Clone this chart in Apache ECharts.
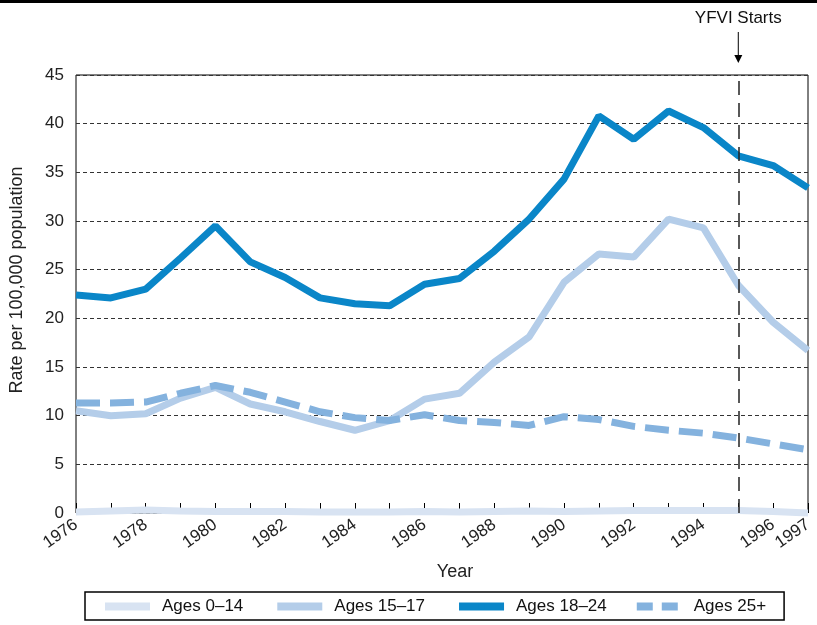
<!DOCTYPE html>
<html>
<head>
<meta charset="utf-8">
<script src="https://cdn.jsdelivr.net/npm/echarts@6/dist/echarts.min.js"></script>
<style>
  html, body { margin: 0; padding: 0; background: #fff; }
  #chart { width: 817px; height: 625px; }
</style>
</head>
<body>
<div id="chart"></div>
<script>
  // data
  const years = ['1976', '1977', '1978', '1979', '1980', '1981', '1982', '1983', '1984', '1985', '1986',
    '1987', '1988', '1989', '1990', '1991', '1992', '1993', '1994', '1995', '1996', '1997'];
  const ages0to14 = [0.1, 0.2, 0.3, 0.2, 0.15, 0.15, 0.15, 0.1, 0.1, 0.1, 0.15,
    0.1, 0.15, 0.2, 0.15, 0.2, 0.25, 0.25, 0.25, 0.25, 0.15, 0.0];
  const ages15to17 = [10.5, 10.0, 10.2, 11.8, 12.9, 11.2, 10.4, 9.4, 8.5, 9.5, 11.7,
    12.3, 15.5, 18.1, 23.7, 26.6, 26.3, 30.2, 29.3, 23.4, 19.6, 16.7];
  const ages18to24 = [22.4, 22.1, 23.0, 26.2, 29.5, 25.8, 24.2, 22.1, 21.5, 21.3, 23.5,
    24.1, 26.9, 30.2, 34.3, 40.8, 38.4, 41.3, 39.6, 36.7, 35.7, 33.4];
  const ages25plus = [11.3, 11.3, 11.4, 12.3, 13.1, 12.4, 11.4, 10.4, 9.8, 9.5, 10.1,
    9.5, 9.3, 9.0, 9.9, 9.6, 8.9, 8.5, 8.2, 7.7, 7.1, 6.5];
  const yTicks = { min: 0, max: 45, interval: 5 };
  const startYear = '1995';

  const font = '"Liberation Sans", Arial, sans-serif';
  const chart = echarts.init(document.getElementById('chart'));

  const option = {
    backgroundColor: '#fff',
    animation: false,
    textStyle: { fontFamily: font },
    grid: {
      left: 76, top: 75, right: 9, bottom: 112,
      show: true, borderColor: '#000', borderWidth: 1
    },
    legend: {
      left: 85, top: 592,
      padding: [6, 18, 5, 16],
      itemGap: 30, itemWidth: 45, itemHeight: 8,
      borderColor: '#000', borderWidth: 1.5,
      lineStyle: { width: 8 },
      textStyle: { fontSize: 17, color: '#111', padding: [0, 0, 0, 7] },
      data: [
        { name: 'Ages 0–14' },
        { name: 'Ages 15–17' },
        { name: 'Ages 18–24' },
        // two short dashes, as in the reference key
        { name: 'Ages 25+', icon: 'path://M0,0h16v8h-16zM25,0h16v8h-16zM45,0v8z' }
      ]
    },
    xAxis: {
      type: 'category',
      data: years,
      boundaryGap: false,
      name: 'Year',
      nameLocation: 'middle',
      nameGap: 50,
      nameTextStyle: { fontSize: 18, color: '#222', padding: [0, 0, 0, 26] },
      axisLine: { show: false },
      axisTick: { inside: true, length: 10, interval: 0, lineStyle: { color: '#000' } },
      axisLabel: {
        rotate: 35, fontSize: 17, color: '#222', margin: 10,
        interval: function (i) { return i % 2 === 0 || i === years.length - 1; }
      },
      splitLine: { show: false }
    },
    yAxis: {
      type: 'value',
      min: yTicks.min, max: yTicks.max, interval: yTicks.interval,
      name: 'Rate per 100,000 population',
      nameLocation: 'middle',
      nameGap: 50,
      nameTextStyle: { fontSize: 18, color: '#222', padding: [0, 0, 0, 28] },
      axisLine: { show: false },
      axisTick: { show: false },
      axisLabel: { fontSize: 17, color: '#222', margin: 12 },
      splitLine: { lineStyle: { color: '#333', type: [4, 3], width: 1 } }
    },
    series: [
      {
        name: 'Ages 0–14', type: 'line', data: ages0to14, symbol: 'none', clip: false,
        lineStyle: { color: '#d8e3f2', width: 7 }, itemStyle: { color: '#d8e3f2' }
      },
      {
        name: 'Ages 15–17', type: 'line', data: ages15to17, symbol: 'none',
        lineStyle: { color: '#b4cde9', width: 7 }, itemStyle: { color: '#b4cde9' }
      },
      {
        name: 'Ages 18–24', type: 'line', data: ages18to24, symbol: 'none',
        lineStyle: { color: '#0a86c8', width: 7 }, itemStyle: { color: '#0a86c8' },
        markLine: {
          silent: true, symbol: ['none', 'none'], label: { show: false },
          lineStyle: { color: '#222', type: [14, 8], width: 1.5 },
          data: [{ xAxis: startYear }]
        }
      },
      {
        name: 'Ages 25+', type: 'line', data: ages25plus, symbol: 'none',
        lineStyle: { color: '#84b2de', width: 7, type: [24, 10] }, itemStyle: { color: '#84b2de' }
      }
    ]
  };
  chart.setOption(option);

  // annotation above the plot, placed at the 1995 position
  const px = chart.convertToPixel({ xAxisIndex: 0 }, startYear);
  chart.setOption({
    graphic: [
      { type: 'rect', shape: { x: 0, y: 0, width: 817, height: 3 }, style: { fill: '#000' } },
      {
        type: 'text', x: px, y: 18,
        style: { text: 'YFVI Starts', font: '17px ' + font, fill: '#111', align: 'center', verticalAlign: 'middle' }
      },
      { type: 'line', shape: { x1: px, y1: 32, x2: px, y2: 57 }, style: { stroke: '#000', lineWidth: 1 } },
      { type: 'polygon', shape: { points: [[px - 4, 55], [px + 4, 55], [px, 63]] }, style: { fill: '#000' } }
    ]
  });
</script>
</body>
</html>
